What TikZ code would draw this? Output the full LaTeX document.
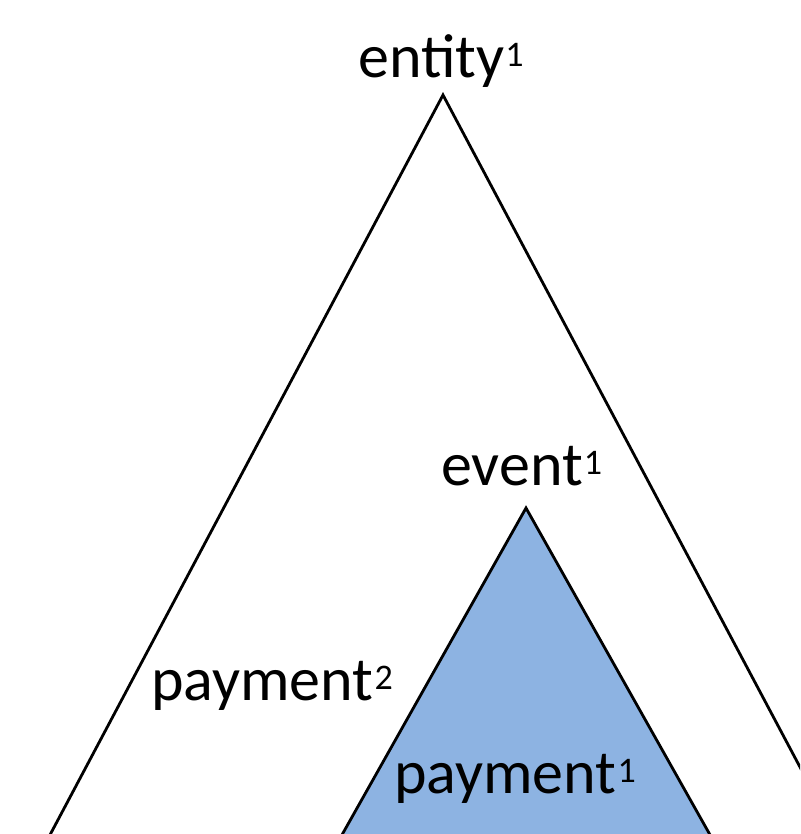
\documentclass[tikz,border=0pt]{standalone}
\usepackage{fontspec}
\setmainfont{Carlito}
\newcommand{\sn}[1]{\hspace{1pt}\raisebox{11pt}{\fontsize{36}{38}\selectfont #1}}
\begin{document}
\begin{tikzpicture}[x=1pt,y=-1pt,
  lbl/.style={font=\fontsize{62}{66}\selectfont, inner sep=0pt, anchor=base west, text=black},
  tri/.style={draw=black, line width=2.8pt, line join=miter}]
\useasboundingbox (0,0) rectangle (800,834);
\clip (0,0) rectangle (800,834);
\coordinate (A) at (443,95);
\coordinate (AL) at (34,865);
\coordinate (AR) at (852,865);
\coordinate (B) at (526,508);
\coordinate (BL) at (325,865);
\coordinate (BR) at (727,865);
\draw[tri] (AL) -- (A) -- (AR);
\draw[tri, fill={rgb,255:red,141;green,179;blue,226}] (BL) -- (B) -- (BR) -- cycle;
\node[lbl] (entity) at (358,78) {entity\sn{1}};
\node[lbl] (event) at (441,485) {event\sn{1}};
\node[lbl] (pay2) at (151,700) {payment\sn{2}};
\node[lbl] (pay1) at (394,793) {payment\sn{1}};
\end{tikzpicture}
\end{document}
